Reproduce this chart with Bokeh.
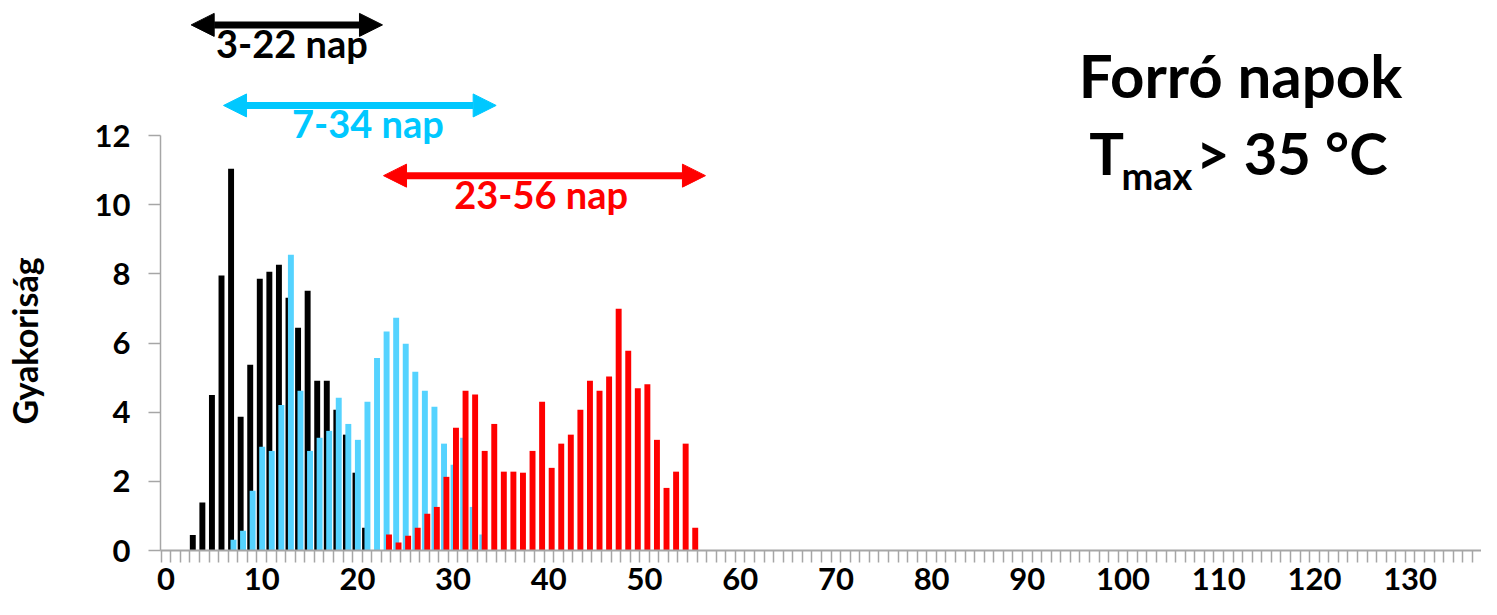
import math
from bokeh.plotting import figure
from bokeh.models import Range1d, FixedTicker, Arrow, NormalHead, Label
from bokeh.core.properties import value
from bokeh.embed import file_html
from bokeh.resources import INLINE

# ---------------- data ----------------
black_days = list(range(3, 22))
black_freq = [0.45, 1.39, 4.50, 7.95, 11.04, 3.87, 5.37, 7.86, 8.06, 8.26,
              7.31, 6.44, 7.51, 4.91, 4.91, 4.07, 3.35, 2.25, 0.66]
blue_days = list(range(7, 34))
blue_freq = [0.31, 0.57, 1.73, 3.00, 2.88, 4.21, 8.55, 4.62, 2.88, 3.26,
             3.46, 4.42, 3.66, 3.20, 4.30, 5.57, 6.33, 6.73, 5.98, 5.17,
             4.62, 4.16, 3.09, 2.48, 3.26, 1.26, 0.46]
red_days = list(range(23, 56))
red_freq = [0.46, 0.23, 0.43, 0.66, 1.06, 1.26, 2.13, 3.55, 4.62, 4.51,
            2.88, 3.66, 2.28, 2.28, 2.25, 2.88, 4.30, 2.39, 3.09, 3.35,
            4.07, 4.91, 4.62, 5.03, 6.99, 5.78, 4.69, 4.81, 3.20, 1.81,
            2.28, 3.09, 0.66]
x_tick_values = list(range(0, 140, 10))
y_tick_values = [0, 2, 4, 6, 8, 10, 12]
range_labels = ["3-22 nap", "7-34 nap", "23-56 nap"]
title_line1 = "Forró napok"
title_T = "T"
title_sub = "max"
title_rest = "> 35 °C"
y_label = "Gyakoriság"

# ---------------- style ----------------
FONT = "Lato"
BLACK = "#000000"
BLUE_BAR = "#55D3FF"
BLUE_TXT = "#00C8FF"
RED = "#FF0000"
AXIS_GRAY = "#A6A6A6"
BAR_W = 0.62

p = figure(width=1481, height=599, output_backend="svg", toolbar_location=None,
           x_range=Range1d(-0.575, 137.46), y_range=Range1d(0, 15.905),
           min_border_left=160, min_border_right=0, min_border_top=0,
           min_border_bottom=49)
p.outline_line_color = None
p.xgrid.visible = False
p.ygrid.visible = False
p.background_fill_color = "white"
p.border_fill_color = "white"

# bars
p.vbar(x=[d - 0.2 for d in black_days], top=black_freq, width=BAR_W,
       fill_color=BLACK, line_color=None)
p.vbar(x=[d + 0.05 for d in blue_days], top=blue_freq, width=BAR_W,
       fill_color=BLUE_BAR, line_color=None)
p.vbar(x=[d + 0.3 for d in red_days], top=red_freq, width=BAR_W,
       fill_color=RED, line_color=None)

# x axis
xa = p.xaxis[0]
xa.ticker = FixedTicker(ticks=x_tick_values,
                        minor_ticks=[i - 0.5 for i in range(0, 140)])
xa.axis_line_color = AXIS_GRAY
xa.axis_line_width = 2
xa.major_tick_out = 0
xa.major_tick_in = 0
xa.major_tick_line_color = None
xa.minor_tick_out = 12
xa.minor_tick_in = 0
xa.minor_tick_line_color = AXIS_GRAY
xa.minor_tick_line_width = 1.5
xa.major_label_standoff = 5
xa.major_label_text_font = FONT
xa.major_label_text_font_style = "bold"
xa.major_label_text_font_size = "31px"
xa.major_label_text_color = BLACK

# y axis
ya = p.yaxis[0]
ya.ticker = FixedTicker(ticks=y_tick_values)
ya.bounds = (0, 12)
ya.axis_line_color = AXIS_GRAY
ya.axis_line_width = 1.5
ya.major_tick_out = 12
ya.major_tick_in = 0
ya.major_tick_line_color = AXIS_GRAY
ya.major_tick_line_width = 1.5
ya.minor_tick_line_color = None
ya.major_label_standoff = 18
ya.major_label_text_font = FONT
ya.major_label_text_font_style = "bold"
ya.major_label_text_font_size = "31px"
ya.major_label_text_color = BLACK

# y axis title, centred on the 0-12 span of the axis (placed in the left
# border panel so that it is not clipped to the plot frame)
p.add_layout(Label(x=-14.79, y=6.06, text=y_label, angle=math.pi / 2,
                   text_font=FONT, text_font_style="bold",
                   text_font_size="34px", text_color=BLACK,
                   text_align="center", text_baseline="middle"), "left")

# range arrows
arrow_specs = [
    (2.63, 22.62, 15.20, BLACK),
    (6.01, 34.50, 12.87, BLUE_TXT),
    (22.73, 56.37, 10.84, RED),
]
for xs, xe, yy, col in arrow_specs:
    p.add_layout(Arrow(
        start=NormalHead(size=23, fill_color=col, line_color=col, line_width=1),
        end=NormalHead(size=23, fill_color=col, line_color=col, line_width=1),
        x_start=xs, y_start=yy, x_end=xe, y_end=yy,
        line_color=col, line_width=7))

label_pos = [(13.15, 14.68, BLACK), (21.1, 12.36, BLUE_TXT), (39.2, 10.30, RED)]
for (lx, ly, col), txt in zip(label_pos, range_labels):
    p.text(x=[lx], y=[ly], text=[txt], text_font=value(FONT),
           text_font_style="bold", text_font_size="38px", text_color=col,
           text_align="center", text_baseline="middle")

# title block
p.text(x=[112.28], y=[13.765], text=[title_line1], text_font=value(FONT),
       text_font_style="bold", text_font_size="60px", text_color=BLACK,
       text_align="center", text_baseline="middle")
p.text(x=[96.48], y=[11.51], text=[title_T], text_font=value(FONT),
       text_font_style="bold", text_font_size="58px", text_color=BLACK,
       text_align="left", text_baseline="middle")
p.text(x=[99.83], y=[10.865], text=[title_sub], text_font=value(FONT),
       text_font_style="bold", text_font_size="38px", text_color=BLACK,
       text_align="left", text_baseline="middle")
p.text(x=[127.64], y=[11.51], text=[title_rest], text_font=value(FONT),
       text_font_style="bold", text_font_size="58px", text_color=BLACK,
       text_align="right", text_baseline="middle")

open("out.html", "w").write(file_html(p, INLINE))
